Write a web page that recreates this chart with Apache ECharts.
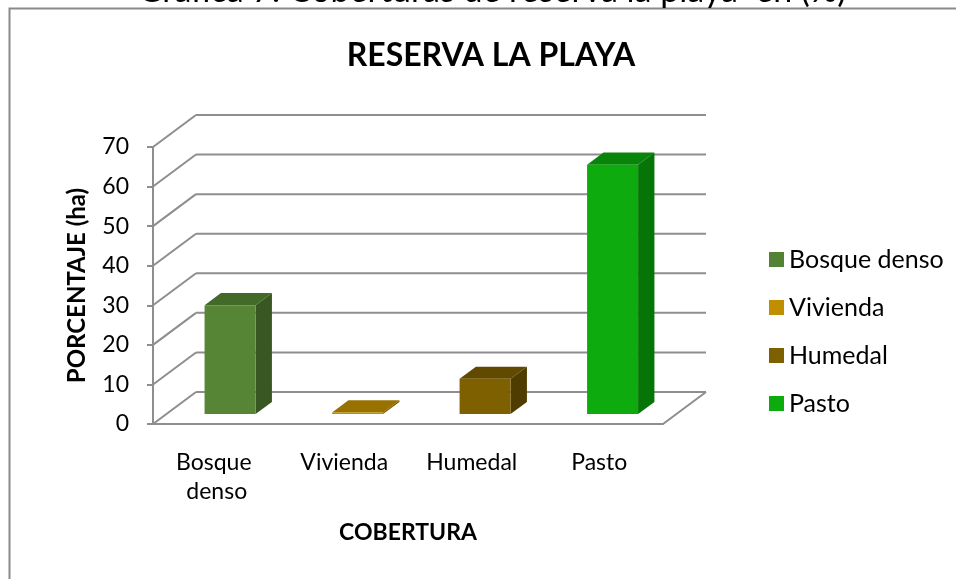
<!DOCTYPE html>
<html>
<head>
<meta charset="utf-8">
<script src="https://cdn.jsdelivr.net/npm/echarts@6/dist/echarts.min.js"></script>
<style>
  html, body { margin: 0; padding: 0; background: #fff; }
  #chart { width: 956px; height: 579px; }
</style>
</head>
<body>
<div id="chart"></div>
<script>
// Land cover shares for the reserve, in percent
const categories = ['Bosque denso', 'Vivienda', 'Humedal', 'Pasto'];
const values = [27.5, 0.4, 8.9, 63.0];
const yTicks = [0, 10, 20, 30, 40, 50, 60, 70];

// face colours per cover type: front, side, top
const palette = [
  { front: '#578536', side: '#385723', top: '#436a29', legend: '#548235' },
  { front: '#bf8f00', side: '#7a5c00', top: '#977200', legend: '#bf8f00' },
  { front: '#7f6000', side: '#4f3c00', top: '#614900', legend: '#7f6000' },
  { front: '#0dab0d', side: '#067406', top: '#088508', legend: '#0dab0d' }
];

const FONT = 'Lato, "Open Sans", sans-serif';
const GRID_COLOR = '#8e8e8e';
// oblique depth vector of the 3D floor / walls
const DX = 43, DY = -32;
// bar occupies this slice of the depth
const D0 = 0.31, D1 = 0.69;

function wallRender(params, api) {
  const cs = params.coordSys;
  const v = api.value(0);
  const y = api.coord([0, v])[1];
  const x0 = cs.x, x1 = cs.x + cs.width;
  const line = (a, b, c, d) => ({
    type: 'line',
    shape: { x1: a, y1: b, x2: c, y2: d },
    style: { stroke: GRID_COLOR, lineWidth: 2 }
  });
  const children = [
    line(x0, y, x0 + DX, y + DY),
    line(x0 + DX, y + DY, x1 + DX, y + DY)
  ];
  if (v === 0) children.push(line(x1, y, x1 + DX, y + DY));
  return { type: 'group', children };
}

function boxRender(idx) {
  return function (params, api) {
    const cat = api.value(0);
    const top = api.coord([cat, api.value(1)]);
    const base = api.coord([cat, 0]);
    const band = api.size([1, 0])[0];
    const w = band * 0.4;
    const xl = top[0] - w / 2 + D0 * DX;
    const xr = xl + w;
    const yt = top[1] + D0 * DY;
    const yb = base[1] + D0 * DY;
    const ddx = (D1 - D0) * DX, ddy = (D1 - D0) * DY;
    const c = palette[idx];
    return {
      type: 'group',
      children: [
        { type: 'polygon', shape: { points: [[xr, yt], [xr + ddx, yt + ddy], [xr + ddx, yb + ddy], [xr, yb]] },
          style: { fill: c.side } },
        { type: 'polygon', shape: { points: [[xl, yt], [xr, yt], [xr + ddx, yt + ddy], [xl + ddx, yt + ddy]] },
          style: { fill: c.top } },
        { type: 'rect', shape: { x: xl, y: yt, width: w, height: Math.max(yb - yt, 0.8) },
          style: { fill: c.front } }
      ]
    };
  };
}

const barSeries = categories.map((name, i) => ({
  name: name,
  type: 'custom',
  clip: false,
  z: 5,
  itemStyle: { color: palette[i].legend },
  renderItem: boxRender(i),
  encode: { x: 0, y: 1 },
  data: [[i, values[i]]]
}));

const chart = echarts.init(document.getElementById('chart'), null, { renderer: 'canvas' });
chart.setOption({
  animation: false,
  backgroundColor: '#ffffff',
  textStyle: { fontFamily: FONT },
  graphic: [
    { type: 'rect', shape: { x: 9.5, y: 8.5, width: 980, height: 600 },
      style: { fill: null, stroke: '#8a8a8a', lineWidth: 2 }, z: -1 },
    { type: 'text', x: 492, y: 7.8,
      style: { text: 'Gráfica 7. Coberturas de reserva la playa  en (%)', fill: '#000',
               font: '34px ' + FONT, textAlign: 'center', textVerticalAlign: 'bottom' } }
  ],
  title: {
    text: 'RESERVA LA PLAYA',
    left: 486, top: 35, textAlign: 'center',
    textStyle: { fontFamily: FONT, fontSize: 32, fontWeight: 'bold', color: '#000' }
  },
  legend: {
    orient: 'vertical',
    left: 764, top: 242,
    itemWidth: 15, itemHeight: 15, itemGap: 23,
    icon: 'rect',
    data: categories,
    textStyle: { fontFamily: FONT, fontSize: 25, lineHeight: 22, color: '#000', padding: [0, 0, 0, 0] }
  },
  grid: { left: 153, top: 147, width: 510, height: 277 },
  xAxis: {
    type: 'category',
    data: categories,
    name: 'COBERTURA',
    nameLocation: 'middle',
    nameGap: 97,
    nameTextStyle: { fontFamily: FONT, fontSize: 23, fontWeight: 'bold', color: '#000' },
    axisLine: { show: true, lineStyle: { color: GRID_COLOR, width: 2 } },
    axisTick: { show: false },
    axisLabel: { interval: 0, margin: 24, fontFamily: FONT, fontSize: 23, color: '#000',
                 lineHeight: 29, width: 110, overflow: 'break' },
    splitLine: { show: false }
  },
  yAxis: {
    type: 'value',
    min: 0, max: 70, interval: 10,
    name: 'PORCENTAJE (ha)',
    nameLocation: 'middle',
    nameGap: 64,
    nameTextStyle: { fontFamily: FONT, fontSize: 24, fontWeight: 'bold', color: '#000' },
    axisLine: { show: true, lineStyle: { color: GRID_COLOR, width: 2 } },
    axisTick: { show: true, length: 6, lineStyle: { color: GRID_COLOR, width: 2 } },
    axisLabel: { margin: 24, fontFamily: FONT, fontSize: 23, color: '#000' },
    splitLine: { show: false }
  },
  series: [
    {
      name: 'walls',
      type: 'custom',
      clip: false,
      silent: true,
      z: 1,
      renderItem: wallRender,
      encode: { y: 0 },
      data: yTicks.map(v => [v])
    }
  ].concat(barSeries)
});
</script>
</body>
</html>
